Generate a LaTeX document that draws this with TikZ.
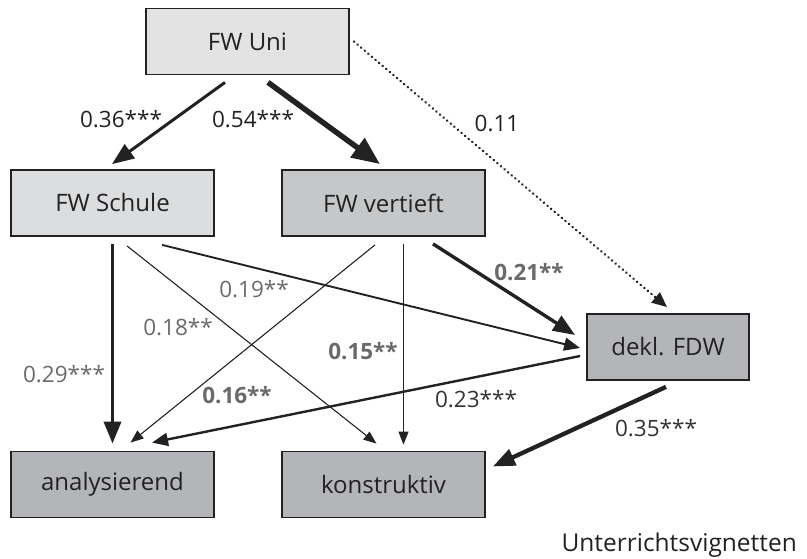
\documentclass[tikz,border=0pt]{standalone}
\usepackage{fontspec}
\setmainfont{Open Sans}
\usetikzlibrary{arrows.meta}
\definecolor{boxA}{HTML}{E3E3E4}
\definecolor{boxB}{HTML}{DCDDDF}
\definecolor{boxC}{HTML}{C6C7C9}
\definecolor{boxD}{HTML}{B4B5B8}
\definecolor{ink}{HTML}{222222}
\definecolor{lblgray}{HTML}{6A6A6A}
\tikzset{
  box/.style={draw=ink, line width=1.8pt, minimum width=203pt, minimum height=66pt, inner sep=0pt,
    font=\fontsize{24}{28}\selectfont, text=ink},
  lbl/.style={font=\fontsize{22.5}{27}\selectfont, text=ink, inner sep=0pt},
  glbl/.style={lbl, text=lblgray},
  bglbl/.style={glbl, font=\fontsize{22.5}{27}\selectfont\bfseries},
  conn/.style={draw=ink, line cap=butt},
  hthin/.style={conn, line width=1.1pt, -{Triangle[length=13pt,width=10pt]}},
  hmed/.style={conn, line width=2.2pt, -{Triangle[length=16pt,width=13pt]}},
  hthick/.style={conn, line width=3.4pt, -{Triangle[length=22pt,width=17pt]}},
  hvthick/.style={conn, line width=5.5pt, -{Triangle[length=28pt,width=23pt]}},
  hdot/.style={conn, line width=2.5pt, line cap=round, dash pattern=on 0.3pt off 4.4pt, -{Triangle[length=15pt,width=13pt]}},
}
\begin{document}
\begin{tikzpicture}[x=1pt,y=-1pt]
\useasboundingbox (0,0) rectangle (807,559);
% boxes
\node[box, fill=boxA] (uni) at (247.5,41.5) {FW Uni};
\node[box, fill=boxB] (schule) at (112.5,203) {FW Schule};
\node[box, fill=boxC] (vertieft) at (383.5,203) {FW vertieft};
\node[box, fill=boxD, minimum width=162pt] (fdw) at (668,347) {dekl. FDW};
\node[box, fill=boxD] (anal) at (112.5,484.5) {analysierend};
\node[box, fill=boxD] (konst) at (383.5,484.5) {konstruktiv};
% connectors
\draw[hthick, line width=3pt] ([shift={(-22.5,7)}]uni.south) -- ([shift={(-0.5,-5)}]schule.north);
\draw[hvthick] ([shift={(20.5,7)}]uni.south) -- ([shift={(-3.5,-5)}]vertieft.north);
\draw[hdot] ([shift={(4,0)}]uni.east) -- ([shift={(-1,-6)}]fdw.north);
\draw[hthick, line width=3.6pt] ([shift={(0,7)}]schule.south) -- ([shift={(0,-7)}]anal.north);
\draw[hthin] ([shift={(14.5,9)}]schule.south) -- ([shift={(-7,-7)}]konst.north);
\draw[hmed, line width=1.9pt] ([shift={(49.5,8)}]schule.south) -- ([shift={(-6,1)}]fdw.west);
\draw[hthin] ([shift={(-8.5,8)}]vertieft.south) -- ([shift={(18,-8)}]anal.north);
\draw[hthin] ([shift={(20,7)}]vertieft.south) -- ([shift={(20,-6)}]konst.north);
\draw[hthick] ([shift={(49.5,7)}]vertieft.south) -- ([shift={(-11,-12)}]fdw.west);
\draw[hmed, line width=2.4pt] ([shift={(-6,9)}]fdw.west) -- ([shift={(39.5,-8)}]anal.north);
\draw[hthick, line width=4.3pt] ([shift={(-2,6)}]fdw.south) -- ([shift={(7,-18)}]konst.east);
% labels
\node[lbl] (l36) at (121,119) {0.36***};
\node[lbl] (l54) at (253,119) {0.54***};
\node[lbl] (l11) at (497,124) {0.11};
\node[glbl] (l29) at (64,374) {0.29***};
\node[glbl] (l18) at (178,327) {0.18**};
\node[glbl] (l19) at (254,289) {0.19**};
\node[bglbl] (l15) at (363,351) {0.15**};
\node[bglbl] (l16) at (237,395) {0.16**};
\node[bglbl] (l21) at (529,272) {0.21**};
\node[lbl, text=black!80] (l23) at (476,399) {0.23***};
\node[lbl, text=black!80] (l35) at (656,428) {0.35***};
\node[lbl, font=\fontsize{24.5}{29}\selectfont, anchor=base east] (uv) at (797,551) {Unterrichtsvignetten};
\end{tikzpicture}
\end{document}
